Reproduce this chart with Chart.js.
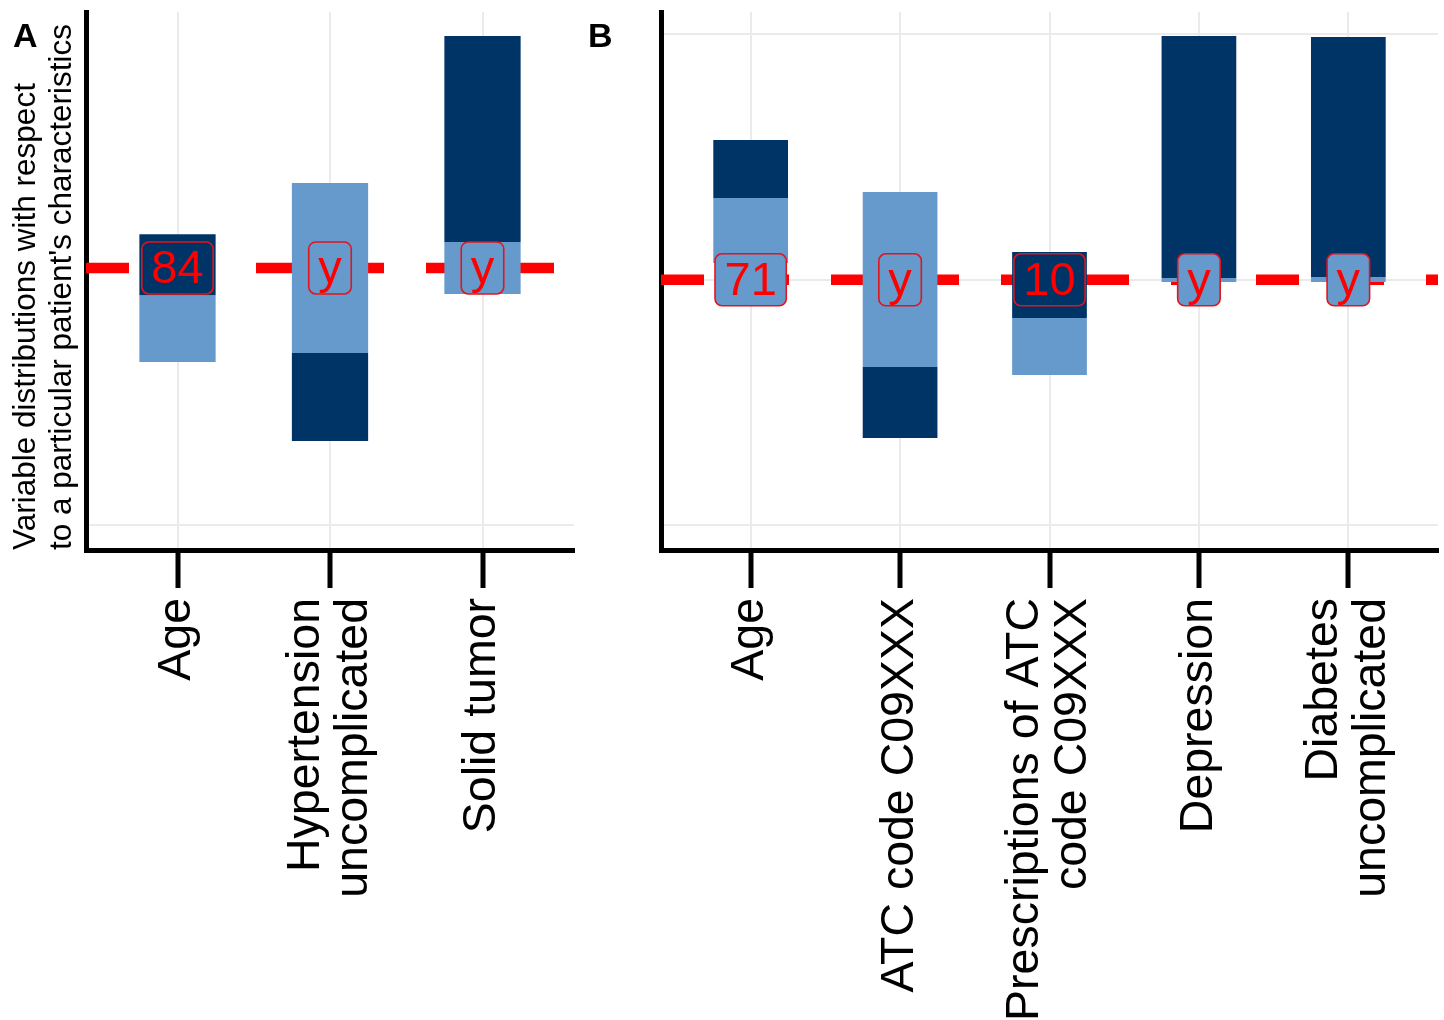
<!DOCTYPE html>
<html><head><meta charset="utf-8">
<script src="https://cdn.jsdelivr.net/npm/chart.js@4.4.1/dist/chart.umd.min.js"></script>
<style>
html,body{margin:0;padding:0;background:#fff;}
#wrap{position:relative;width:1444px;height:1020px;overflow:hidden;}
#chartA{position:absolute;left:0;top:0;}
#chartB{position:absolute;left:580px;top:0;}
</style></head><body>
<div id="wrap">
<canvas id="chartA" width="580" height="1020"></canvas>
<canvas id="chartB" width="864" height="1020"></canvas>
</div>
<script>
// ---------- Panel A data ----------
const categoriesA = [['Age'], ['Hypertension', 'uncomplicated'], ['Solid tumor']];
const darkRangeA  = [[0.4687, 0.5929], [0.1718, 0.3509], [0.5767, 0.9961]];
const lightRangeA = [[0.3324, 0.4687], [0.3509, 0.6969], [0.4709, 0.5767]];
const patientLabelsA = ['84', 'y', 'y'];
const patientLabelSeriesA = [0, 1, 1];   // 0 = dark range, 1 = light range
const patientValueA = 0.524;
const gridTicksA = [0];

// ---------- Panel B data ----------
const categoriesB = [['Age'], ['ATC code C09XXX'], ['Prescriptions of ATC', 'code C09XXX'], ['Depression'], ['Diabetes', 'uncomplicated']];
const darkRangeB  = [[0.6664, 0.7845], [0.1779, 0.3224], [0.4222, 0.5565], [0.5035, 0.9961], [0.5055, 0.9941]];
const lightRangeB = [[0.5341, 0.6664], [0.3224, 0.6786], [0.3061, 0.4222], [0.4954, 0.5035], [0.4954, 0.5055]];
const patientLabelsB = ['71', 'y', '10', 'y', 'y'];
const patientLabelSeriesB = [1, 1, 0, 1, 1];
const patientValueB = 0.5;
const gridTicksB = [0, 0.5, 1];

const yTitleLines = ['Variable distributions with respect', "to a particular patient's characteristics"];

const FONT = '"Liberation Sans", Arial, Helvetica, sans-serif';
const DARK = '#003366';
const LIGHT = '#6699cc';

const panelPlugin = {
  id: 'panelDecor',
  beforeDatasetsDraw(chart, args, opts) {
    const {ctx, chartArea} = chart;
    const y = chart.scales.y.getPixelForValue(opts.patientValue);
    ctx.save();
    ctx.strokeStyle = '#ff0000';
    ctx.lineWidth = 10.5;
    ctx.lineCap = 'butt';
    ctx.setLineDash([43, 42]);
    ctx.beginPath();
    ctx.moveTo(chartArea.left, y);
    ctx.lineTo(chartArea.right, y);
    ctx.stroke();
    ctx.restore();
  },
  afterDatasetsDraw(chart, args, opts) {
    const {ctx} = chart;
    const xs = chart.scales.x, ys = chart.scales.y;
    const cy = ys.getPixelForValue(opts.patientValue);
    ctx.save();
    ctx.font = '47px ' + FONT;
    opts.labels.forEach((txt, i) => {
      const cx = xs.getPixelForValue(i);
      const w = ctx.measureText(txt).width + 19;
      const h = 52;
      ctx.beginPath();
      ctx.roundRect(cx - w / 2, cy - h / 2, w, h, 7);
      ctx.fillStyle = chart.data.datasets[opts.labelSeries[i]].backgroundColor;
      ctx.fill();
      ctx.lineWidth = 1.6;
      ctx.strokeStyle = '#e3141c';
      ctx.stroke();
      ctx.fillStyle = '#ff0000';
      ctx.textAlign = 'center';
      ctx.textBaseline = 'alphabetic';
      ctx.fillText(txt, cx, cy + 15);
    });
    ctx.restore();
  },
  afterDraw(chart, args, opts) {
    const {ctx} = chart;
    const xs = chart.scales.x;
    const cats = chart.data.labels;
    const lh = 48;
    const anchorY = xs.top + 48;
    ctx.save();
    ctx.font = '46.5px ' + FONT;
    ctx.fillStyle = '#000';
    xs.ticks.forEach((t, i) => {
      const px = xs.getPixelForTick(i);
      const lines = cats[i];
      lines.forEach((ln, j) => {
        const cx = px + (j - (lines.length - 1) / 2) * lh;
        ctx.save();
        ctx.translate(cx, anchorY);
        ctx.rotate(-Math.PI / 2);
        ctx.textAlign = 'right';
        ctx.textBaseline = 'middle';
        ctx.fillText(ln, 0, 0);
        ctx.restore();
      });
    });
    ctx.font = 'bold 34px ' + FONT;
    ctx.textAlign = 'left';
    ctx.textBaseline = 'alphabetic';
    ctx.fillText(opts.letter, opts.letterX, 47);
    ctx.restore();
  }
};

function makePanel(id, cats, dark, light, labels, labelSeries, patientValue, gridTicks, letter, letterX, yWidth, showTitle) {
  return new Chart(document.getElementById(id), {
    type: 'bar',
    data: {
      labels: cats,
      datasets: [
        {label: 'Dark range', data: dark, backgroundColor: DARK, borderWidth: 0, grouped: false, barPercentage: 0.5, categoryPercentage: 1},
        {label: 'Light range', data: light, backgroundColor: LIGHT, borderWidth: 0, grouped: false, barPercentage: 0.5, categoryPercentage: 1}
      ]
    },
    options: {
      responsive: false,
      animation: false,
      devicePixelRatio: 1,
      layout: {padding: {left: 0, right: 6, top: 12, bottom: 0}},
      plugins: {
        legend: {display: false},
        tooltip: {enabled: false},
        panelDecor: {labels, labelSeries, patientValue, letter, letterX}
      },
      scales: {
        x: {
          type: 'category',
          offset: false,
          grid: {display: true, offset: false, color: '#ebebeb', lineWidth: 2, drawTicks: true, tickLength: 38, tickColor: '#000', tickWidth: 5},
          border: {display: true, color: '#000', width: 5},
          ticks: {display: false, autoSkip: false},
          afterBuildTicks: s => { s._startValue = -0.6; s._valueRange = s.getLabels().length - 1 + 1.2; },
          afterFit: s => { s.height = 470; }
        },
        y: {
          type: 'linear',
          min: -0.05,
          max: 1.045,
          grid: {color: '#ebebeb', lineWidth: 2, drawTicks: false},
          border: {display: true, color: '#000', width: 5},
          ticks: {display: false},
          afterBuildTicks: s => { s.ticks = gridTicks.map(v => ({value: v})); },
          afterFit: s => { s.width = yWidth; },
          title: {
            display: showTitle,
            text: yTitleLines,
            align: 'start',
            color: '#000',
            font: {size: 31.5, family: FONT, lineHeight: 1.15},
            padding: {top: 8, bottom: 0}
          }
        }
      }
    },
    plugins: [panelPlugin]
  });
}

makePanel('chartA', categoriesA, darkRangeA, lightRangeA, patientLabelsA, patientLabelSeriesA, patientValueA, gridTicksA, 'A', 13, 86, true);
makePanel('chartB', categoriesB, darkRangeB, lightRangeB, patientLabelsB, patientLabelSeriesB, patientValueB, gridTicksB, 'B', 8, 81, false);
</script>
</body></html>
